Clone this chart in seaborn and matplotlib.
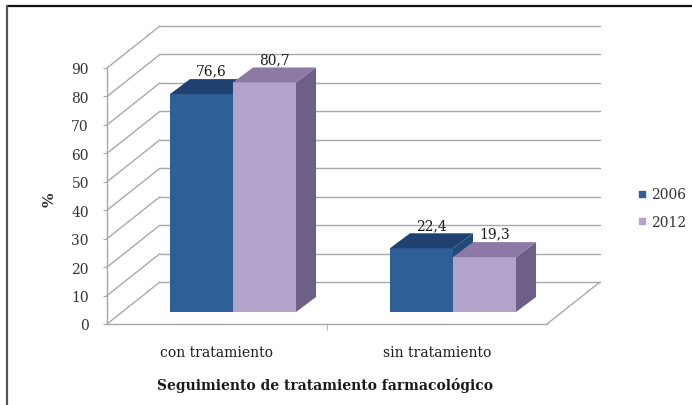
import matplotlib.pyplot as plt
import pandas as pd
import seaborn as sns
from matplotlib.lines import Line2D
from matplotlib.patches import Polygon

# data
categories = ['con tratamiento', 'sin tratamiento']
years = ['2006', '2012']
values_2006 = [76.6, 22.4]
values_2012 = [80.7, 19.3]
labels_2006 = ['76,6', '22,4']
labels_2012 = ['80,7', '19,3']
y_ticks = [0, 10, 20, 30, 40, 50, 60, 70, 80, 90]

front_colors = ['#2f5f97', '#b3a2cb']
top_colors = ['#1f416f', '#8c79a6']
side_colors = ['#23497a', '#6e5f86']
grid_color = '#a8a8a8'

df = pd.DataFrame({
    'Tratamiento': categories * 2,
    'Año': [years[0]] * len(categories) + [years[1]] * len(categories),
    'Porcentaje': values_2006 + values_2012,
})

sns.set_style('white')
plt.rcParams['font.family'] = ['DejaVu Serif']

W, H = 692, 406
fig = plt.figure(figsize=(W / 100, H / 100), dpi=100)
ax = fig.add_axes([107 / W, 81 / H, 440 / W, 256 / H])

sns.barplot(data=df, x='Tratamiento', y='Porcentaje', hue='Año',
            palette=front_colors, width=0.573, saturation=1,
            legend=False, ax=ax)
ax.set_xlim(-0.5, 1.5)
ax.set_ylim(0, 90)

# pixel -> data conversion for the oblique "3D" offsets
px_x = 440 / 2
px_y = 256 / 90
wall = (53 / px_x, 42 / px_y)
shift = (16 / px_x, 12 / px_y)
depth = (20 / px_x, 15 / px_y)

x_lo, x_hi = ax.get_xlim()

# back wall, left wall and floor
for v in y_ticks:
    ax.plot([x_lo + wall[0], x_hi + wall[0]], [v + wall[1]] * 2,
            color=grid_color, lw=1, zorder=1, clip_on=False)
    ax.plot([x_lo, x_lo + wall[0]], [v, v + wall[1]],
            color=grid_color, lw=1, zorder=1, clip_on=False)
ax.plot([x_hi, x_hi + wall[0]], [0, wall[1]], color=grid_color, lw=1,
        zorder=1, clip_on=False)

# turn the flat seaborn bars into boxes
n = len(categories)
all_labels = labels_2006 + labels_2012
for i, p in enumerate(ax.patches[:2 * n]):
    k = i // n
    p.set_x(p.get_x() + shift[0])
    p.set_y(shift[1])
    p.set_edgecolor('none')
    p.set_zorder(2 + 2 * k)
    x0, w = p.get_x(), p.get_width()
    y0, y1 = p.get_y(), p.get_y() + p.get_height()
    x1 = x0 + w
    top = [(x0, y1), (x1, y1), (x1 + depth[0], y1 + depth[1]), (x0 + depth[0], y1 + depth[1])]
    side = [(x1, y0), (x1 + depth[0], y0 + depth[1]), (x1 + depth[0], y1 + depth[1]), (x1, y1)]
    ax.add_patch(Polygon(side, closed=True, color=side_colors[k], lw=0,
                         zorder=2 + 2 * k - 0.5, clip_on=False))
    ax.add_patch(Polygon(top, closed=True, color=top_colors[k], lw=0,
                         zorder=2 + 2 * k + 0.5, clip_on=False))
    ax.text(x0 + w / 2 + depth[0] / 2, y1 + depth[1] + 0.5, all_labels[i],
            ha='center', va='bottom', fontsize=10, color='#1a1a1a', zorder=6)

# axes styling
sns.despine(ax=ax, top=True, right=True)
for s in ['left', 'bottom']:
    ax.spines[s].set_color(grid_color)
    ax.spines[s].set_linewidth(1)
ax.set_yticks(y_ticks)
ax.tick_params(axis='y', length=3, color=grid_color, pad=10, labelsize=10,
               labelcolor='#333333', left=True)
ax.tick_params(axis='x', length=0, pad=15, labelsize=10, labelcolor='#1a1a1a')
ax.set_xticks([0.5], minor=True)
ax.tick_params(axis='x', which='minor', length=4, color=grid_color, bottom=True)

ax.set_xlabel('Seguimiento de tratamiento farmacológico', fontsize=10,
              fontweight='bold', color='#1a1a1a')
ax.xaxis.set_label_coords(0.495, -53 / 256)
ax.set_ylabel('%', fontsize=11, fontweight='bold', color='#333333')
ax.yaxis.set_label_coords(-0.115, 0.49)

handles = [Line2D([], [], marker='s', ls='none', markersize=5,
                  color=c) for c in front_colors]
fig.legend(handles, years, loc='center left', bbox_to_anchor=(638 / W, 1 - 209 / H),
           frameon=False, fontsize=10, handlelength=0.6, handletextpad=0.35,
           labelspacing=0.95, labelcolor='#333333', borderpad=0, borderaxespad=0)

# outer frame (top and left edges visible in the reference)
fig.add_artist(Line2D([7 / W, 1], [1 - 7 / H, 1 - 7 / H], color='#111111', lw=1.6))
fig.add_artist(Line2D([7 / W, 7 / W], [0, 1 - 7 / H], color='#555555', lw=1.6))

fig.savefig('out.png', dpi=100, facecolor='white')
